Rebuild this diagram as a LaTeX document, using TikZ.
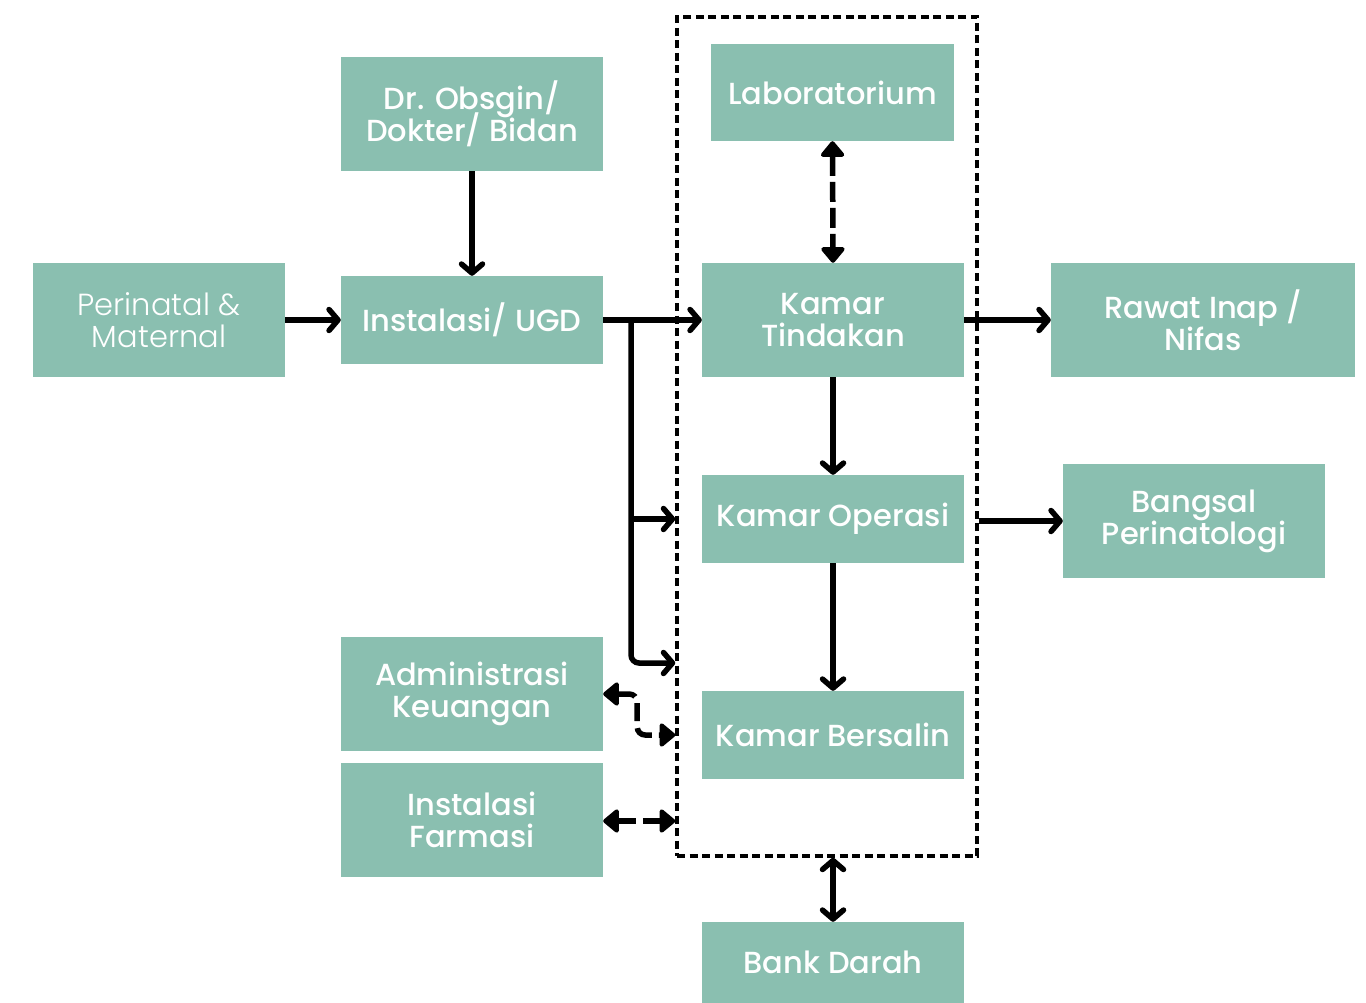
\documentclass[tikz,border=0pt]{standalone}
\usepackage{fontspec}
\setmainfont{Poppins}
\newfontfamily\medf{Poppins Medium}
\newfontfamily\lightf{Poppins Light}
\usetikzlibrary{arrows.meta}
\definecolor{boxc}{RGB}{138,191,176}
\newcommand{\myboxfont}{\medf\fontsize{30.5}{32}\selectfont\lineskiplimit=-100pt\relax}
\newcommand{\mylightfont}{\lightf\fontsize{30.5}{32}\selectfont\lineskiplimit=-100pt\relax}
\tikzset{
  box/.style={fill=boxc, text=white, inner sep=0pt, align=center, font=\myboxfont},
  lightbox/.style={box, font=\mylightfont},
  solidarr/.style={line width=5.5pt, -{Straight Barb[length=9pt,width=21pt,round]}},
  soliddbl/.style={line width=5.5pt, {Straight Barb[length=9pt,width=21pt,round]}-{Straight Barb[length=9pt,width=21pt,round]}},
  dashdbl/.style={line width=5.5pt, dash pattern=on 18pt off 7pt, {Triangle[length=17pt,width=27pt,round]}-{Triangle[length=17pt,width=27pt,round]}},
  grpbox/.style={draw, line width=3.5pt, dash pattern=on 8pt off 4.5pt, inner sep=0pt}
}
\begin{document}
\begin{tikzpicture}[x=1pt,y=-1pt]
\useasboundingbox (0,0) rectangle (1366,1003);
% group
\node[grpbox, minimum width=300, minimum height=839] (grp) at (827,436.5) {};
% boxes
\node[box, minimum width=262, minimum height=114] (dr) at (472,114) {Dr. Obsgin/\\Dokter/ Bidan};
\node[lightbox, minimum width=252, minimum height=114] (peri) at (159,320) {Perinatal \&\\Maternal};
\node[box, minimum width=262, minimum height=88] (ugd) at (472,320) {Instalasi/ UGD};
\node[box, minimum width=243, minimum height=97] (lab) at (832.5,92.5) {Laboratorium};
\node[box, minimum width=262, minimum height=114] (kt) at (833,320) {Kamar\\Tindakan};
\node[box, minimum width=262, minimum height=88] (ko) at (833,519) {Kamar Operasi};
\node[box, minimum width=262, minimum height=88] (kb) at (833,735) {Kamar Bersalin};
\node[box, minimum width=304, minimum height=114] (ri) at (1203,320) {Rawat Inap /\\Nifas};
\node[box, minimum width=262, minimum height=114] (bg) at (1194,521) {Bangsal\\Perinatologi};
\node[box, minimum width=262, minimum height=114] (adm) at (472,694) {Administrasi\\Keuangan};
\node[box, minimum width=262, minimum height=114] (far) at (472,820) {Instalasi\\Farmasi};
\node[box, minimum width=262, minimum height=81] (bd) at (833,962.5) {Bank Darah};
% connectors
\draw[solidarr] (dr.south) -- (ugd.north);
\draw[solidarr] (peri.east) -- (ugd.west);
\draw[solidarr] (ugd.east) -- (kt.west);
\coordinate (br) at (631,320);
\draw[solidarr, rounded corners=8pt] (br) |- (grp.west |- 0,663);
\draw[solidarr] (631,519) -- (grp.west |- 0,519);
\draw[dashdbl, rounded corners=8pt] (adm.east) -- ++(34,0) |- (grp.west |- 0,735);
\draw[dashdbl] (far.east |- 0,821) -- (grp.west |- 0,821);
\draw[dashdbl, dash pattern=on 20pt off 6pt] (lab.south) -- (kt.north);
\draw[solidarr] (kt.south) -- (ko.north);
\draw[solidarr] (ko.south) -- (kb.north);
\draw[solidarr] (kt.east) -- (ri.west);
\draw[solidarr] (grp.east |- bg.west) -- (bg.west);
\draw[soliddbl] (bd.north |- grp.south) -- (bd.north);
\end{tikzpicture}
\end{document}
